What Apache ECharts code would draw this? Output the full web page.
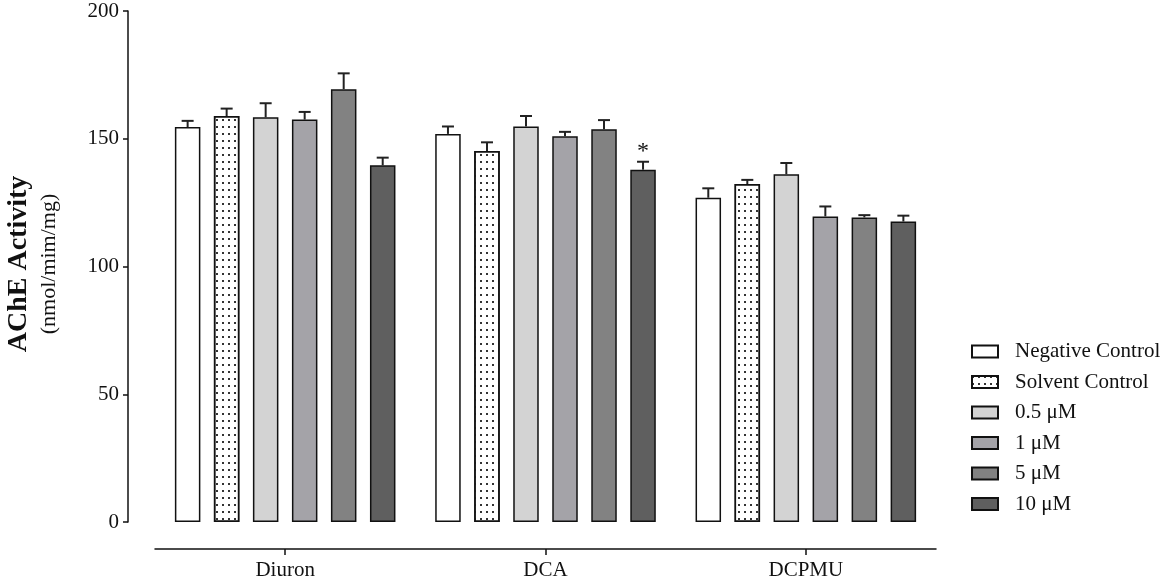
<!DOCTYPE html>
<html lang="en">
<head>
<meta charset="UTF-8">
<title>AChE Activity</title>
<script src="https://cdn.jsdelivr.net/npm/echarts@6/dist/echarts.min.js"></script>
<style>
html, body { margin: 0; padding: 0; background: #fff; }
#chart { width: 1170px; height: 585px; }
</style>
</head>
<body>
<div id="chart"></div>
<script>
// values (mean and upper error)
var categories = ['Diuron', 'DCA', 'DCPMU'];
var seriesNames = ['Negative Control', 'Solvent Control', '0.5 \u03bcM', '1 \u03bcM', '5 \u03bcM', '10 \u03bcM'];
var negativeControl = [154.6, 151.9, 126.9];
var solventControl = [158.9, 145.2, 132.3];
var conc05 = [158.4, 154.8, 136.1];
var conc1 = [157.5, 151.0, 119.6];
var conc5 = [169.4, 153.7, 119.2];
var conc10 = [139.6, 137.9, 117.6];
var errNegative = [2.4, 2.9, 3.7];
var errSolvent = [2.9, 3.4, 1.6];
var err05 = [5.5, 4.1, 4.4];
var err1 = [3.0, 1.7, 3.9];
var err5 = [6.2, 3.6, 0.9];
var err10 = [3.0, 3.1, 2.3];
var sig10 = ['', '*', ''];
var yTicks = [0, 50, 100, 150, 200];

var means = [negativeControl, solventControl, conc05, conc1, conc5, conc10];
var errors = [errNegative, errSolvent, err05, err1, err5, err10];
var marks = [[], [], [], [], [], sig10];
var fills = ['#ffffff', '#ffffff', '#d3d3d3', '#a4a3a8', '#828282', '#5f5f5f'];

var FONT = 'Liberation Serif';
var BAR_W = 25.5;
var BAR_GAP = 0.53;

var chart = echarts.init(document.getElementById('chart'));

var series = [];
means.forEach(function (vals, s) {
    var style = { color: fills[s], borderColor: '#111', borderWidth: 1.5 };
    if (s === 1) {
        style.decal = {
            symbol: 'rect',
            symbolSize: 1,
            dashArrayX: [2, 4],
            dashArrayY: [2, 4.5],
            color: '#333'
        };
    }
    series.push({
        name: seriesNames[s],
        type: 'bar',
        barWidth: BAR_W,
        barGap: (BAR_GAP * 100) + '%',
        itemStyle: style,
        data: vals.map(function (v, i) {
            var m = marks[s][i];
            if (!m) return v;
            return {
                value: v,
                label: {
                    show: true, position: 'top', distance: 6, formatter: m,
                    fontFamily: FONT, fontSize: 24, color: '#111'
                }
            };
        })
    });
});

// error bars, one custom series per condition
means.forEach(function (vals, s) {
    var shift = (s - (means.length - 1) / 2) * BAR_W * (1 + BAR_GAP);
    series.push({
        name: 'err' + s,
        type: 'custom',
        z: 3,
        data: vals.map(function (v, i) { return [i, v, errors[s][i]]; }),
        renderItem: function (params, api) {
            var base = api.coord([api.value(0), api.value(1)]);
            var top = api.coord([api.value(0), api.value(1) + api.value(2)]);
            var x = base[0] + shift;
            var st = { stroke: '#222', lineWidth: 2 };
            return {
                type: 'group',
                children: [
                    { type: 'line', shape: { x1: x, y1: base[1], x2: x, y2: top[1] }, style: st },
                    { type: 'line', shape: { x1: x - 6, y1: top[1], x2: x + 6, y2: top[1] }, style: st }
                ]
            };
        }
    });
});

var option = {
    animation: false,
    backgroundColor: '#fff',
    textStyle: { fontFamily: FONT },
    grid: { left: 155, right: 234, top: 11, bottom: 63 },
    legend: {
        data: seriesNames,
        orient: 'vertical',
        left: 966,
        top: 336,
        itemWidth: 26,
        itemHeight: 12,
        itemGap: 9.5,
        icon: 'rect',
        textStyle: { fontFamily: FONT, fontSize: 21, color: '#111', padding: [0, 0, 0, 12] }
    },
    xAxis: {
        type: 'category',
        data: categories,
        offset: 27,
        axisLine: { show: true, onZero: false, lineStyle: { color: '#111', width: 1.5 } },
        axisTick: { show: true, interval: 0, alignWithLabel: true, length: 6, lineStyle: { color: '#111', width: 1.5 } },
        axisLabel: { fontFamily: FONT, fontSize: 21, color: '#111', margin: 11 }
    },
    yAxis: {
        type: 'value',
        min: yTicks[0],
        max: yTicks[yTicks.length - 1],
        interval: 50,
        offset: 27,
        axisLine: { show: true, onZero: false, lineStyle: { color: '#111', width: 1.5 } },
        axisTick: { show: true, length: 5, lineStyle: { color: '#111', width: 1.5 } },
        splitLine: { show: false },
        axisLabel: { fontFamily: FONT, fontSize: 21, color: '#111', margin: 9 }
    },
    graphic: [
        {
            type: 'text', x: 19, y: 264, rotation: Math.PI / 2,
            style: {
                text: 'AChE Activity', fontFamily: FONT, fontSize: 28, fontWeight: 'bold',
                fill: '#111', align: 'center', verticalAlign: 'middle'
            }
        },
        {
            type: 'text', x: 49, y: 264, rotation: Math.PI / 2,
            style: {
                text: '(nmol/mim/mg)', fontFamily: FONT, fontSize: 22,
                fill: '#111', align: 'center', verticalAlign: 'middle'
            }
        }
    ],
    series: series
};

chart.setOption(option);
</script>
</body>
</html>
